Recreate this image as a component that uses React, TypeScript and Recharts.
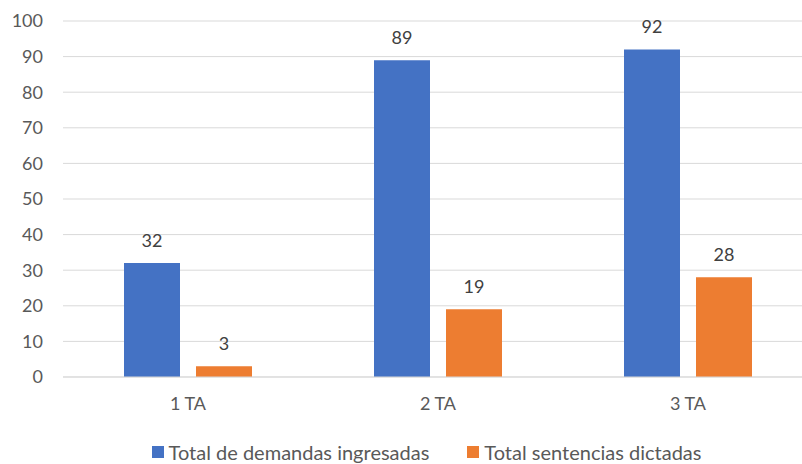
import React from "react";
import {
  BarChart,
  Bar,
  XAxis,
  YAxis,
  CartesianGrid,
  Legend,
  LabelList,
} from "recharts";

const categories = ["1 TA", "2 TA", "3 TA"];
const demandas = [32, 89, 92];
const sentencias = [3, 19, 28];
const yTicks = [0, 10, 20, 30, 40, 50, 60, 70, 80, 90, 100];

const seriesNames = ["Total de demandas ingresadas", "Total sentencias dictadas"];
const BLUE = "#4472C4";
const ORANGE = "#ED7D31";

const data = categories.map((name, i) => ({
  name,
  demandas: demandas[i],
  sentencias: sentencias[i],
}));

const FONT = "Lato, 'Open Sans', sans-serif";

function LegendBox() {
  const items = [
    { label: seriesNames[0], color: BLUE },
    { label: seriesNames[1], color: ORANGE },
  ];
  return (
    <div
      style={{
        display: "flex",
        justifyContent: "center",
        gap: 38,
        fontFamily: FONT,
        fontSize: 20,
        color: "#595959",
        paddingLeft: 40,
        paddingTop: 6,
      }}
    >
      {items.map((it) => (
        <div key={it.label} style={{ display: "flex", alignItems: "center" }}>
          <span
            style={{
              display: "inline-block",
              width: 12,
              height: 12,
              background: it.color,
              marginRight: 5,
            }}
          />
          {it.label}
        </div>
      ))}
    </div>
  );
}

export default function App() {
  return (
    <div style={{ position: "absolute", left: 0, top: 0, width: 802, height: 464, background: "#fff", overflow: "hidden" }}>
      <BarChart
        width={802}
        height={464}
        data={data}
        margin={{ top: 21, right: -11, left: 0, bottom: 0 }}
        barSize={56}
        barGap={16}
      >
        <CartesianGrid vertical={false} stroke="#d9d9d9" />
        <XAxis
          dataKey="name"
          axisLine={{ stroke: "#d9d9d9" }}
          tickLine={false}
          tickSize={0}
          tickMargin={20}
          height={57}
          tick={{ fill: "#595959", fontSize: 18, fontFamily: FONT }}
        />
        <YAxis
          domain={[0, 100]}
          ticks={yTicks}
          width={63}
          axisLine={false}
          tickLine={false}
          tickSize={0}
          tickMargin={20}
          interval={0}
          tick={{ fill: "#595959", fontSize: 18, fontFamily: FONT }}
        />
        <Legend verticalAlign="bottom" height={30} content={() => <LegendBox />} />
        <Bar dataKey="demandas" name={seriesNames[0]} fill={BLUE} isAnimationActive={false}>
          <LabelList dataKey="demandas" position="top" offset={16} fill="#404040" fontSize={18} fontFamily={FONT} />
        </Bar>
        <Bar dataKey="sentencias" name={seriesNames[1]} fill={ORANGE} isAnimationActive={false}>
          <LabelList dataKey="sentencias" position="top" offset={16} fill="#404040" fontSize={18} fontFamily={FONT} />
        </Bar>
      </BarChart>
    </div>
  );
}
